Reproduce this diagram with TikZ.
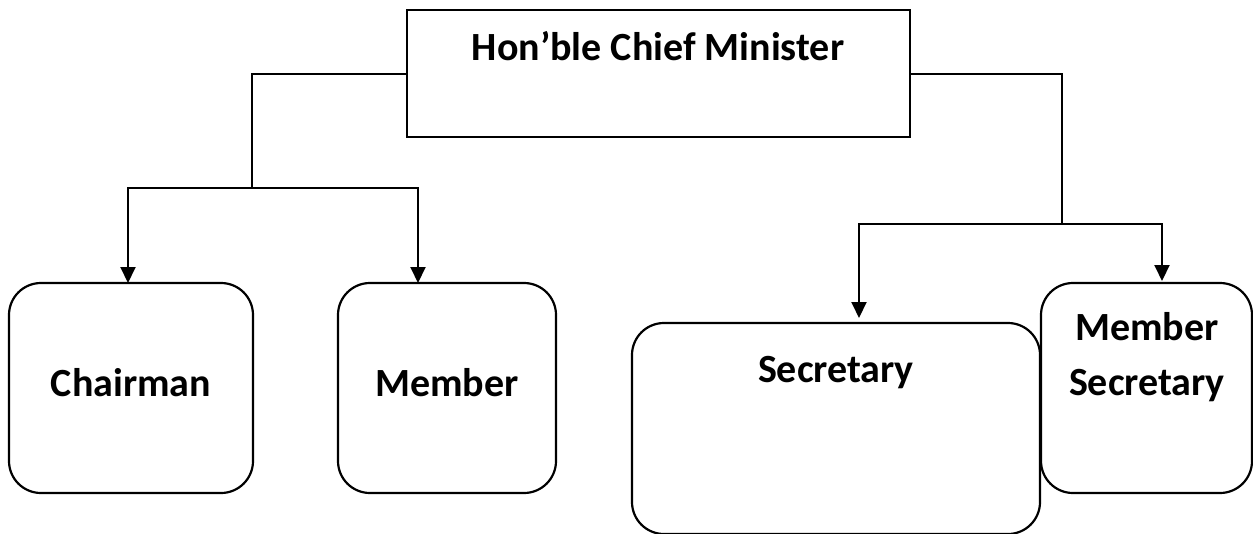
\documentclass[tikz,border=0pt]{standalone}
\usepackage{fontspec}
\setmainfont{Carlito}
\usetikzlibrary{arrows.meta}
\begin{document}
\begin{tikzpicture}[x=1pt,y=-1pt,
  box/.style={draw, line width=2.6pt, inner sep=0pt, outer sep=0pt, anchor=north west},
  rbox/.style={box, rounded corners=32pt, line width=2.2pt},
  lbl/.style={font=\bfseries\fontsize{40}{48}\selectfont, inner sep=0pt, anchor=base},
  conn/.style={line width=2pt},
  arr/.style={conn, -{Triangle[length=16pt,width=15pt]}}]
\useasboundingbox (0,0) rectangle (1253,533);
\node[box, minimum width=503pt, minimum height=127pt] (cm) at (407,10) {};
\node[lbl] (cmt) at (658,60) {Hon’ble Chief Minister};
\node[rbox, minimum width=244pt, minimum height=210pt] (chair) at (9,283) {};
\node[lbl] (chairt) at (131,396) {Chairman};
\node[rbox, minimum width=218pt, minimum height=210pt] (mem) at (338,283) {};
\node[lbl] (memt) at (447,396) {Member};
\node[rbox, minimum width=408pt, minimum height=211pt] (sec) at (632,323) {};
\node[lbl] (sect) at (836,382) {Secretary};
\node[rbox, minimum width=211pt, minimum height=210pt] (msec) at (1041,283) {};
\node[lbl] (mseca) at (1147,340) {Member};
\node[lbl] (msecb) at (1147,395) {Secretary};
\coordinate (jl) at (252,188);
\coordinate (jr) at (1062,224);
\draw[conn] (cm.west) -| (jl);
\draw[arr] (jl) -| ([xshift=-3pt]chair.north);
\draw[arr] (jl) -| ([xshift=80pt]mem.north west);
\draw[conn] (cm.east) -| (jr);
\draw[arr] (jr) -| ([xshift=227pt,yshift=5pt]sec.north west);
\draw[arr] (jr) -| ([xshift=121pt,yshift=2pt]msec.north west);
\end{tikzpicture}
\end{document}
